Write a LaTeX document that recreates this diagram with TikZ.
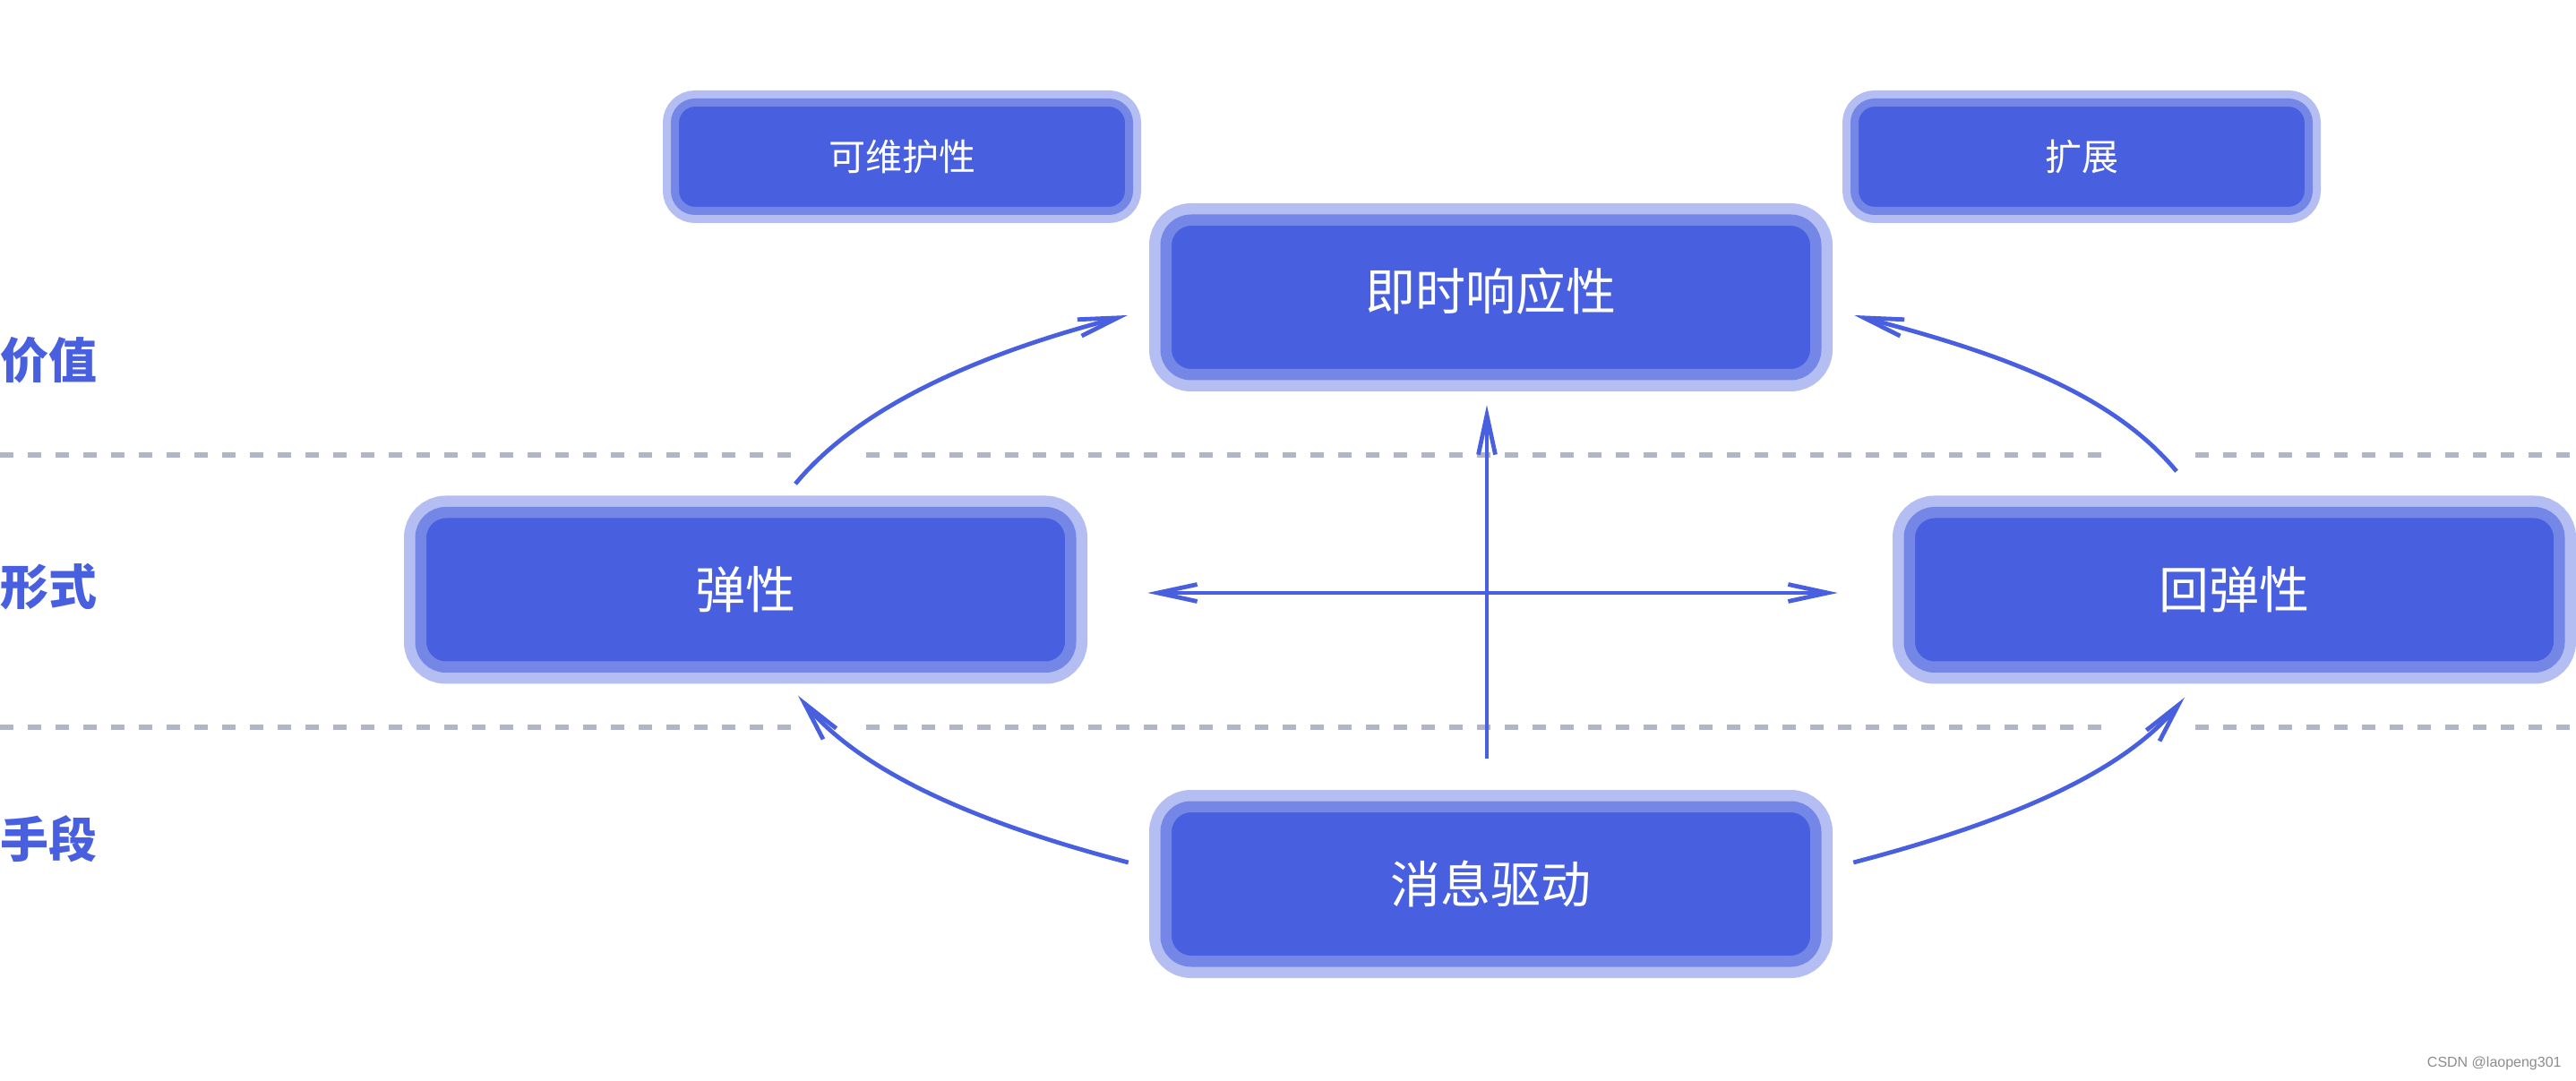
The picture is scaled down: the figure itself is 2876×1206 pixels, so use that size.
\documentclass[tikz,border=0pt]{standalone}
\usepackage{fontspec}
\setmainfont{Noto Sans CJK SC}
\newfontfamily\cjk{Noto Sans CJK SC}
\newfontfamily\wmfont{Liberation Sans}
\usepackage{tikz}
\usetikzlibrary{arrows.meta, calc}

\definecolor{boxfill}{RGB}{72,96,224}
\definecolor{boxmid}{RGB}{116,135,231}
\definecolor{boxlight}{RGB}{180,190,242}
\definecolor{dashgray}{RGB}{177,181,200}

\begin{document}
\begin{tikzpicture}[x=0.5pt,y=0.5pt,
  >={Straight Barb[length=22pt,width=9.5pt]},
  bigbox/.style={rectangle, rounded corners=14pt, fill=boxfill, draw=boxmid, line width=6.25pt,
    preaction={draw=boxlight, line width=18.75pt},
    minimum width=362.75pt, minimum height=86.25pt, inner sep=0pt,
    text=white, font=\cjk\fontsize{28}{34}\selectfont},
  smallbox/.style={rectangle, rounded corners=11.25pt, fill=boxfill, draw=boxmid, line width=4.5pt,
    preaction={draw=boxlight, line width=13.5pt},
    minimum width=253.5pt, minimum height=60.5pt, inner sep=0pt,
    text=white, font=\cjk\fontsize{20.5}{25}\selectfont},
  layer/.style={anchor=west, inner sep=0pt, text=boxfill, font=\cjk\bfseries\fontsize{27}{32}\selectfont},
  flow/.style={draw=boxfill, line width=2.4pt, ->},
  sep/.style={draw=dashgray, line width=3pt, dash pattern=on 7.5pt off 8pt}]
\useasboundingbox (0,0) rectangle (2876,1206);

% layer separators
\draw[sep] (0,698) -- (895,698);
\draw[sep] (967,698) -- (2349,698);
\draw[sep] (2451,698) -- (2876,698);
\draw[sep] (0,394) -- (895,394);
\draw[sep] (967,394) -- (2349,394);
\draw[sep] (2451,394) -- (2876,394);

% layer labels
\node[layer] (jiazhi) at (0,804) {价值};
\node[layer] (xingshi) at (0,551) {形式};
\node[layer] (shouduan) at (0,269) {手段};

% boxes
\node[smallbox] (weihu) at (1007,1031) {可维护性};
\node[smallbox] (kuozhan) at (2324,1031) {扩展};
\node[bigbox, text depth=9pt] (jishi) at (1664.5,874) {即时响应性};
\node[bigbox] (tanxing) at (832.5,547.5) {弹性};
\node[bigbox] (huitan) at (2494.5,547.5) {回弹性};
\node[bigbox] (xiaoxi) at (1664.5,219) {消息驱动};

% arrows
\draw[flow] ($(tanxing.north)+(55.5,25.75)$) .. controls +(72,87) and +(-165,-43) .. ($(jishi.west)+(-36.75,-20)$);
\draw[flow] ($(huitan.north)+(-64.5,39.75)$) .. controls +(-72,87) and +(165,-43) .. ($(jishi.east)+(36.75,-20)$);
\draw[flow] ($(xiaoxi.west)+(-35.75,24)$) .. controls +(-165,43) and +(72,-87) .. ($(tanxing.south)+(58.5,-25.75)$);
\draw[flow] ($(xiaoxi.east)+(35.75,24)$) .. controls +(165,43) and +(-72,-87) .. ($(huitan.south)+(-55.5,-27.75)$);
\draw[flow] ($(xiaoxi.north)+(-4.5,47.75)$) -- ($(jishi.south)+(-4.5,-27.75)$);
\draw[flow, <->] ($(tanxing.east)+(79.75,-3.5)$) -- ($(huitan.west)+(-73.75,-3.5)$);

% watermark
\node[anchor=east, inner sep=0pt, text=black!45, font=\wmfont\fontsize{8}{10}\selectfont] (csdn) at (2860,19) {CSDN @laopeng301};
\end{tikzpicture}
\end{document}
